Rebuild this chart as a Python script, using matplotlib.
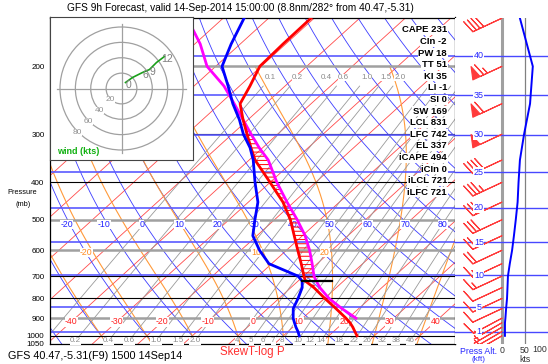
import numpy as np
import matplotlib.pyplot as plt
from matplotlib.patches import Circle

plt.rcParams['font.family'] = ['Liberation Sans', 'DejaVu Sans']
plt.rcParams['hatch.linewidth'] = 0.7

W, H = 548, 364
SKEW = 40.47          # degC per ln(p) unit
P_BOT, P_TOP = 1050.0, 149.4

# sounding (hPa, degC)
pres = [1000, 975, 950, 925, 900, 850, 800, 750, 721, 700, 650, 600, 550, 500,
        450, 400, 350, 325, 300, 275, 250, 225, 200, 175, 150]
temp = [26.2, 24.7, 23.2, 21.5, 19.5, 15.0, 10.1, 5.1, 1.6, 0.1, -3.5, -7.5, -11.8, -16.5,
        -22.4, -30.0, -38.7, -42.6, -46.7, -51.1, -55.6, -57.7, -60.3, -60.6, -60.7]
dewp = [13.5, 12.2, 10.7, 9.3, 7.9, 5.6, 4.2, 2.5, 0.9, -1.2, -10.6, -15.9, -20.9, -24.3,
        -27.9, -33.3, -39.1, -42.8, -47.5, -51.9, -57.2, -62.5, -68.6, -72.0, -75.4]
# lifted parcel, from 900 hPa
parcel_p = pres[4:]
parcel_t = [21.7, 16.3, 11.0, 6.4, 4.0, 2.3, -1.1, -4.9, -9.4, -15.0, -21.5, -28.5,
            -35.8, -40.8, -45.8, -51.1, -56.9, -63.4, -71.9, -78.8, -87.9]
lcl_p = 721
lcl_t = [0.9, 7.5]

# winds
wind_p = [1000, 975, 950, 925, 900, 850, 800, 750, 700, 650, 600, 550, 500, 450,
          400, 350, 300, 250, 200, 150]
wind_kt = [6.5, 6.5, 6.5, 6.5, 7.5, 9, 11, 12, 13, 17, 22, 26, 30, 34, 36, 39, 48, 61, 67, 39]
wind_dir = [240, 240, 240, 240, 242, 245, 245, 245, 245, 245, 245, 245, 245, 245,
            245, 245, 245, 245, 245, 245]

# hodograph trace (kts) and height labels
hodo_u = [5.2, 14.3, 27.3, 36.4, 45.5, 55.8]
hodo_v = [7.8, 14.3, 20.8, 24.7, 33.8, 41.6]
hodo_lab = {0: '0', 2: '6', 3: '9', 5: '12'}

# pressure altitude lines
alt_kft = [1, 5, 10, 15, 20, 25, 30, 35, 40]
alt_p = [977, 843, 697, 572, 466, 376, 301, 238, 188]

# indices panel
stat_names = ['CAPE', 'CIn', 'PW', 'TT', 'KI', 'LI', 'SI', 'SW', 'LCL', 'LFC', 'EL',
              'iCAPE', 'iCIn', 'iLCL', 'iLFC']
stat_vals = ['231', '-2', '18', '51', '35', '-1', '0', '169', '831', '742', '337',
             '494', '0', '721', '721']

# background lines
isotherms = np.arange(-130, 51, 10)
iso_labels = [-40, -30, -20, -10, 0, 10, 20, 30, 40]
dry_theta = np.arange(-50, 251, 10)
dry_labels = [-20, -10, 0, 10, 20, 30, 40, 50, 60, 70, 80]
moist_thw = [-30, -20, -10, 0, 10, 20, 30, 40]
moist_labels = [-20, 10, 20]
mix_w = [0.1, 0.2, 0.4, 0.6, 1.0, 1.5, 2.0, 4, 5, 6, 7, 8, 10, 12, 14, 18, 22, 26, 32, 38, 46]
mix_top_labels = [0.1, 0.2, 0.4, 0.6, 1.0, 1.5, 2.0]

p_levels = [200, 300, 400, 500, 600, 700, 800, 900, 1000]
p_gray = [200, 500, 600, 900]


def skx(t, p):
    return np.asarray(t, float) + SKEW * np.log(P_BOT / np.asarray(p, float))


def dewpt_from_w(w, p):
    e = w * p / (622.0 + w)
    a = np.log(e / 6.112)
    return 243.5 * a / (17.67 - a)


def moist_path(t0, p):
    Rd, Cp, Lv, eps = 287.04, 1005.7, 2.501e6, 0.622
    def dtdp(tc, pp):
        tk = tc + 273.15
        es = 6.112 * np.exp(17.67 * tc / (tc + 243.5))
        rs = eps * es / (pp - es)
        return (Rd * tk + Lv * rs) / (pp * (Cp + Lv * Lv * rs * eps / (Rd * tk * tk)))
    out = np.empty_like(p)
    t = t0
    out[0] = t
    for i in range(1, len(p)):
        dp = p[i] - p[i - 1]
        k1 = dtdp(t, p[i - 1])
        k2 = dtdp(t + 0.5 * dp * k1, p[i - 1] + 0.5 * dp)
        t = t + dp * k2
        out[i] = t
    return out


fig = plt.figure(figsize=(W / 100, H / 100), dpi=100)
ax = fig.add_axes([50 / W, 20 / H, 405 / W, 326.5 / H])
ax.set_yscale('log')
ax.set_ylim(P_BOT, P_TOP)
ax.set_xlim(-39.3, 49.7)

pp = np.linspace(P_BOT, P_TOP, 200)

# isotherms
for t in isotherms:
    ax.plot(skx(t, pp), pp, color='#ff4a4a', lw=0.6, zorder=1)
p_iso = 920
for t in iso_labels:
    ax.text(skx(t, p_iso), p_iso, str(t), color='#ff2020', fontsize=6.3, ha='center', va='center',
            zorder=3, bbox=dict(fc='white', ec='none', pad=0.2))

# dry adiabats
for th in dry_theta:
    tt = (th + 273.15) * (pp / 1000.0) ** 0.2857 - 273.15
    ax.plot(skx(tt, pp), pp, color='#3c3cff', lw=0.6, zorder=1)
p_dry = 515
for th in dry_labels:
    tt = (th + 273.15) * (p_dry / 1000.0) ** 0.2857 - 273.15
    ax.text(skx(tt, p_dry) - 0.8, p_dry, str(th), color='#2020ff', fontsize=6.3, ha='center',
            va='center', zorder=3, bbox=dict(fc='white', ec='none', pad=0.2))

# moist adiabats
p_up = np.arange(1000.0, 199.0, -2.0)
p_dn = np.arange(1000.0, 1051.0, 2.0)
p_moist = 608
for tw in moist_thw:
    up = moist_path(float(tw), p_up)
    dn = moist_path(float(tw), p_dn)
    mp = np.concatenate([p_dn[::-1], p_up[1:]])
    mt = np.concatenate([dn[::-1], up[1:]])
    ax.plot(skx(mt, mp), mp, color='#ff9a3a', lw=0.8, zorder=1)
    if tw in moist_labels:
        tl = np.interp(p_moist, p_up[::-1], up[::-1])
        ax.text(skx(tl, p_moist) - 1.5, p_moist, str(tw), color='#ff8a20', fontsize=6.3,
                ha='center', va='center', zorder=3, bbox=dict(fc='white', ec='none', pad=0.2))

# mixing ratio lines
pm = np.linspace(P_BOT, 225, 100)
for w in mix_w:
    ax.plot(skx(dewpt_from_w(w, pm), pm), pm, color='#9a9a9a', lw=0.6, zorder=1)
    xb = skx(dewpt_from_w(w, 1031.0), 1031.0)
    if xb > -38:
        lab = ('%.1f' % w) if w < 3 else ('%d' % w)
        ax.text(xb, 1031, lab, color='#8a8a8a', fontsize=5.8, ha='center', va='center', zorder=3,
                bbox=dict(fc='white', ec='none', pad=0.1))
    if w in mix_top_labels:
        ax.text(skx(dewpt_from_w(w, 214.0), 214.0), 214, '%.1f' % w, color='#8a8a8a',
                fontsize=5.8, ha='center', va='center', zorder=3,
                bbox=dict(fc='white', ec='none', pad=0.1))

# pressure lines
for p in p_levels:
    if p in p_gray:
        ax.axhline(p, color='#a0a0a0', lw=1.8, zorder=2)
    else:
        ax.axhline(p, color='black', lw=0.8, zorder=2)

# pressure altitude lines
for p in alt_p:
    ax.axhline(p, color='#5a5aff', lw=1.2, zorder=2)

# CAPE hatching
pp_par = np.array(parcel_p, float)
xe = skx(temp[4:], pp_par)
xpar = skx(parcel_t, pp_par)
mask = (pp_par <= lcl_p) & (xpar >= xe)
ax.fill_betweenx(pp_par, xe, xpar, where=mask, interpolate=True, facecolor='none',
                 edgecolor='red', hatch='----', linewidth=0, zorder=4)

# profiles
ax.plot(skx(temp, pres), pres, color='red', lw=2.0, zorder=6)
ax.plot(skx(dewp, pres), pres, color='blue', lw=2.0, zorder=6)
ax.plot(xpar, pp_par, color='magenta', lw=2.0, zorder=5)
ax.plot(skx(lcl_t, [lcl_p, lcl_p]), [lcl_p, lcl_p], color='black', lw=1.6, zorder=7)

ax.set_xticks([])
ax.yaxis.set_minor_locator(plt.NullLocator())
ax.set_yticks(p_levels + [1050])
ax.set_yticklabels([str(p) for p in p_levels] + ['1050'], fontsize=5.8)
ax.tick_params(axis='y', length=0, pad=4)
for s in ax.spines.values():
    s.set_linewidth(0.9)

# right panel: barbs and wind speed
axr = fig.add_axes([455 / W, 20 / H, 93 / W, 326.5 / H])
axr.set_yscale('log')
axr.set_ylim(P_BOT, P_TOP)
axr.set_xlim(-102, 100)
for s in axr.spines.values():
    s.set_visible(False)
axr.yaxis.set_minor_locator(plt.NullLocator())
axr.set_yticks([])
axr.set_xticks([0, 50])
axr.set_xticklabels(['0', '50'], fontsize=6.3, color='#333333')
axr.tick_params(axis='x', length=0, pad=1.5)
axr.axvline(0, color='#a0a0a0', lw=2.2, zorder=1)
axr.axvline(50, color='#808080', lw=0.9, zorder=1)
for p in alt_p:
    axr.axhline(p, color='#4848ff', lw=1.0, zorder=2)
ang = np.deg2rad(wind_dir)
spd = np.array(wind_kt, float)
u = -spd * np.sin(ang)
v = -spd * np.cos(ang)
axr.barbs(np.zeros(len(wind_p)), wind_p, u, v, length=6.8, pivot='tip', color='#ff3a3a',
          linewidth=0.8, zorder=3)
axr.plot(wind_kt, wind_p, color='blue', lw=1.4, zorder=4)
for k, p in zip(alt_kft, alt_p):
    axr.text(-50, p, str(k), color='#2828ff', fontsize=6.5, ha='center', va='center', zorder=5,
             bbox=dict(fc='white', ec='none', pad=0.3))

# hodograph inset
axh = fig.add_axes([50 / W, (H - 160) / H, 143 / W, 143 / H])
axh.set_zorder(10)
axh.set_facecolor('white')
axh.set_xlim(-93, 93)
axh.set_ylim(-93, 93)
axh.set_xticks([])
axh.set_yticks([])
for s in axh.spines.values():
    s.set_color('#444444')
    s.set_linewidth(0.8)
for r in [20, 40, 60, 80]:
    axh.add_patch(Circle((0, 0), r, fill=False, ec='#a0a0a0', lw=0.9))
    axh.text(-0.72 * r, -0.72 * r, str(r), color='#909090', fontsize=6, ha='center', va='center',
             bbox=dict(fc='white', ec='none', pad=0.1))
axh.plot([-84, 84], [0, 0], color='#a0a0a0', lw=0.9)
axh.plot([0, 0], [-84, 84], color='#a0a0a0', lw=0.9)
axh.plot(hodo_u, hodo_v, color='#1aa01a', lw=1.2, zorder=3)
for i, lab in hodo_lab.items():
    axh.text(hodo_u[i] + 4, hodo_v[i] - 3, lab, color='#808080', fontsize=7.5, ha='center',
             va='center', zorder=4)
axh.text(0.05, 0.06, 'wind (kts)', transform=axh.transAxes, color='#10b010', fontsize=6.5,
         fontweight='bold', ha='left', va='center')

# indices
for i, (n, val) in enumerate(zip(stat_names, stat_vals)):
    fig.text(447 / W, 1 - (30 + i * 11.6) / H, n + ' ' + val, ha='right', va='center',
             fontsize=6.8, fontweight='bold', zorder=20,
             bbox=dict(fc='white', ec='none', pad=0.4))

# labels
fig.text(240 / W, 1 - 8 / H,
         'GFS 9h Forecast, valid 14-Sep-2014 15:00:00 (8.8nm/282\u00b0 from 40.47,-5.31)',
         ha='center', va='center', fontsize=7.3)
fig.text(8 / W, 1 - 356 / H, 'GFS 40.47,-5.31(F9) 1500 14Sep14', ha='left', va='center',
         fontsize=7.8)
fig.text(252 / W, 1 - 352 / H, 'SkewT-log P', ha='center', va='center', fontsize=8.3,
         color='#ff3030')
fig.text(22 / W, 1 - 193 / H, 'Pressure', ha='center', va='center', fontsize=5.3)
fig.text(23 / W, 1 - 204 / H, '(mb)', ha='center', va='center', fontsize=5.3)
fig.text(478 / W, 1 - 351 / H, 'Press Alt.', ha='center', va='center', fontsize=6.3,
         color='#2828ff')
fig.text(478 / W, 1 - 359.5 / H, '(kft)', ha='center', va='center', fontsize=5.8,
         color='#2828ff')
fig.text(547 / W, 1 - 350 / H, '100', ha='right', va='center', fontsize=6.3, color='#333333')
fig.text(525 / W, 1 - 359.5 / H, 'kts', ha='center', va='center', fontsize=6.3, color='#333333')

fig.savefig('out.png', dpi=100)
